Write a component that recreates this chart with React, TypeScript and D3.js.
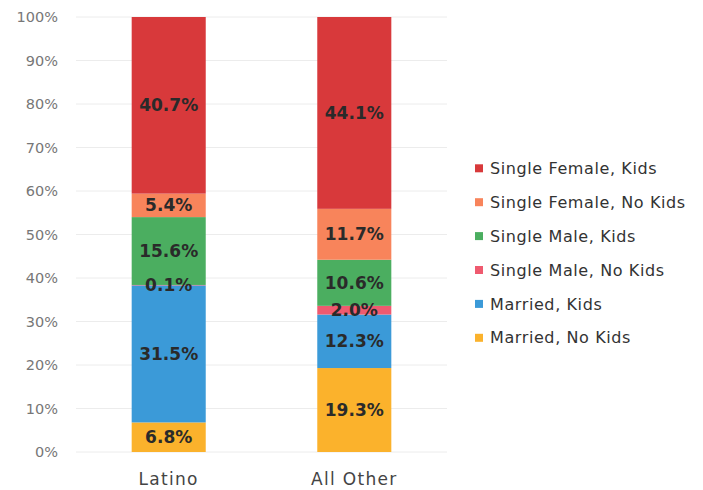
import React from "react";
import * as d3 from "d3";

const categories = ["Latino", "All Other"];
const seriesNames = [
  "Married, No Kids",
  "Married, Kids",
  "Single Male, No Kids",
  "Single Male, Kids",
  "Single Female, No Kids",
  "Single Female, Kids",
];
const seriesColors = ["#fbb22c", "#3b9ad8", "#ef5a6f", "#4bae60", "#f8845b", "#d8393b"];
const latinoValues = [6.8, 31.5, 0.1, 15.6, 5.4, 40.7];
const allOtherValues = [19.3, 12.3, 2.0, 10.6, 11.7, 44.1];
const yTicks = [0, 10, 20, 30, 40, 50, 60, 70, 80, 90, 100];
const legendOrder = [5, 4, 3, 2, 1, 0];

const W = 703;
const H = 490;
const FONT = "'DejaVu Sans', 'Open Sans', sans-serif";

export default function App() {
  const y = d3.scaleLinear().domain([0, 100]).range([452, 17]);
  const x = d3
    .scaleBand<string>()
    .domain(categories)
    .range([76, 447])
    .paddingInner(0.601)
    .paddingOuter(0.3);

  const rows = categories.map((c, i) => {
    const row: any = { cat: c };
    const vals = i === 0 ? latinoValues : allOtherValues;
    seriesNames.forEach((s, j) => (row[s] = vals[j]));
    return row;
  });
  const stacked = d3.stack<any>().keys(seriesNames)(rows);

  return (
    <svg width={W} height={H} style={{ position: "absolute", left: 0, top: 0, background: "#fff" }}>
      <g>
        {yTicks.map((t) => (
          <g key={t}>
            <line x1={76} x2={447} y1={y(t)} y2={y(t)} stroke="#ececec" strokeWidth={1} />
            <text
              x={58}
              y={y(t)}
              dy="0.35em"
              textAnchor="end"
              fontFamily={FONT}
              fontSize={14.5}
              fill="#777"
            >
              {t}%
            </text>
          </g>
        ))}
      </g>
      {stacked.map((layer, j) => (
        <g key={layer.key} fill={seriesColors[j]}>
          {layer.map((d, i) => (
            <rect
              key={i}
              x={x(categories[i])}
              width={x.bandwidth()}
              y={y(Math.min(d[1], 100))}
              height={y(d[0]) - y(Math.min(d[1], 100))}
            />
          ))}
        </g>
      ))}
      {stacked.map((layer, j) => (
        <g key={"l" + layer.key}>
          {layer.map((d, i) => (
            <text
              key={i}
              x={(x(categories[i]) as number) + x.bandwidth() / 2}
              y={y((d[0] + Math.min(d[1], 100)) / 2)}
              dy="0.35em"
              textAnchor="middle"
              fontFamily={FONT}
              fontWeight="bold"
              fontSize={17}
              fill="#2a2a2a"
            >
              {(d[1] - d[0]).toFixed(1)}%
            </text>
          ))}
        </g>
      ))}
      {categories.map((c) => (
        <text
          key={c}
          x={(x(c) as number) + x.bandwidth() / 2}
          y={485}
          textAnchor="middle"
          fontFamily={FONT}
          fontSize={17}
          letterSpacing={1.3}
          fill="#444"
        >
          {c}
        </text>
      ))}
      {legendOrder.map((j, k) => {
        const cy = 168.3 + k * 33.9;
        return (
          <g key={j}>
            <rect x={475} y={cy - 4} width={8} height={8} fill={seriesColors[j]} />
            <text
              x={490}
              y={cy}
              dy="0.35em"
              fontFamily={FONT}
              fontSize={16}
              letterSpacing={0.6}
              fill="#333"
            >
              {seriesNames[j]}
            </text>
          </g>
        );
      })}
    </svg>
  );
}
